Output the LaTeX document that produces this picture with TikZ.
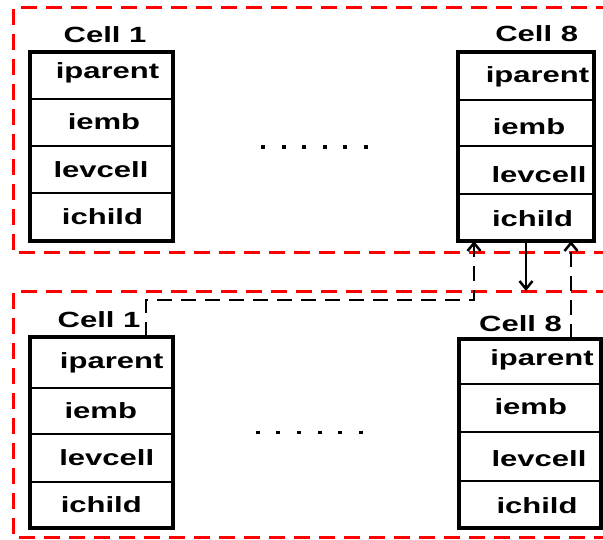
\documentclass[tikz,border=0pt]{standalone}
\usepackage{fontspec}
\setmainfont{Liberation Sans}
\usepackage{graphicx}
\usetikzlibrary{arrows.meta}
\newcommand\wtxt[1]{\scalebox{1.41}[1]{\bfseries #1}}
\begin{document}
\begin{tikzpicture}[x=1pt,y=-1pt,
  redbox/.style={draw=red, line width=3pt, dash pattern=on 16pt off 9pt},
  cellbox/.style={draw, line width=3.5pt, inner sep=0pt, outer sep=0pt},
  sepline/.style={line width=2.5pt},
  lbl/.style={anchor=base, inner sep=0pt, font=\fontsize{22}{24}\selectfont},
  link/.style={line width=2.5pt, dash pattern=on 15pt off 9pt},
  tip/.style={-{Straight Barb[length=8pt,width=13pt,line width=2.5pt]}}
]
\useasboundingbox (0,0) rectangle (603,540);

% red dashed groups
\draw[redbox] (612,8) -- (13,8) -- (13,253) -- (612,253);
\draw[redbox] (612,292) -- (13,292) -- (13,537) -- (612,537);

% cell boxes
\node[cellbox, minimum width=143pt, minimum height=189pt] (tl) at (101.5,146.5) {};
\node[cellbox, minimum width=136pt, minimum height=189pt] (tr) at (526,146.5) {};
\node[cellbox, minimum width=143pt, minimum height=191pt] (bl) at (101.5,432.5) {};
\node[cellbox, minimum width=142pt, minimum height=189pt] (br) at (530,433.5) {};

% row separators
\draw[sepline] (tl.west |- 0,99) -- (tl.east |- 0,99);
\draw[sepline] (tl.west |- 0,146) -- (tl.east |- 0,146);
\draw[sepline] (tl.west |- 0,193) -- (tl.east |- 0,193);
\draw[sepline] (tr.west |- 0,100) -- (tr.east |- 0,100);
\draw[sepline] (tr.west |- 0,146) -- (tr.east |- 0,146);
\draw[sepline] (tr.west |- 0,194) -- (tr.east |- 0,194);
\draw[sepline] (bl.west |- 0,388) -- (bl.east |- 0,388);
\draw[sepline] (bl.west |- 0,434) -- (bl.east |- 0,434);
\draw[sepline] (bl.west |- 0,482) -- (bl.east |- 0,482);
\draw[sepline] (br.west |- 0,384) -- (br.east |- 0,384);
\draw[sepline] (br.west |- 0,432) -- (br.east |- 0,432);
\draw[sepline] (br.west |- 0,481) -- (br.east |- 0,481);

% texts top-left
\node[lbl] (tlh) at (105,43) {\wtxt{Cell 1}};
\node[lbl] (tla) at (107.5,79) {\wtxt{iparent}};
\node[lbl] (tlb) at (104,130) {\wtxt{iemb}};
\node[lbl] (tlc) at (101,178) {\wtxt{levcell}};
\node[lbl] (tld) at (102.5,225) {\wtxt{ichild}};
% texts top-right
\node[lbl] (trh) at (536.7,42) {\wtxt{Cell 8}};
\node[lbl] (tra) at (537.5,83) {\wtxt{iparent}};
\node[lbl] (trb) at (529,135) {\wtxt{iemb}};
\node[lbl] (trc) at (539,183) {\wtxt{levcell}};
\node[lbl] (trd) at (532.5,227) {\wtxt{ichild}};
% texts bottom-left
\node[lbl] (blh) at (99,328) {\wtxt{Cell 1}};
\node[lbl] (bla) at (111.7,368) {\wtxt{iparent}};
\node[lbl] (blb) at (100.8,418) {\wtxt{iemb}};
\node[lbl] (blc) at (106.7,465) {\wtxt{levcell}};
\node[lbl] (bld) at (101.3,512) {\wtxt{ichild}};
% texts bottom-right
\node[lbl] (brh) at (520.5,331) {\wtxt{Cell 8}};
\node[lbl] (bra) at (542,366) {\wtxt{iparent}};
\node[lbl] (brb) at (530.8,414) {\wtxt{iemb}};
\node[lbl] (brc) at (539,466) {\wtxt{levcell}};
\node[lbl] (brd) at (537,513) {\wtxt{ichild}};

% ellipsis dots
\foreach \i in {0,...,5} \fill ({261+20.6*\i},145.5) rectangle ++(4,3.2);
\foreach \i in {0,...,5} \fill ({255.7+20.6*\i},431.2) rectangle ++(4,3.2);

% connectors
\coordinate (jog) at (146,300);
\coordinate (down) at (526,291);
\draw[line width=2.5pt, tip] ([xshift=68pt]tr.south west) -- (down);
\draw[link, tip] ([xshift=116pt]bl.north west) -- (jog) -| ([xshift=16pt]tr.south west);
\draw[link, tip] ([xshift=112pt]br.north west) -- ([xshift=113pt]tr.south west);
\end{tikzpicture}
\end{document}
